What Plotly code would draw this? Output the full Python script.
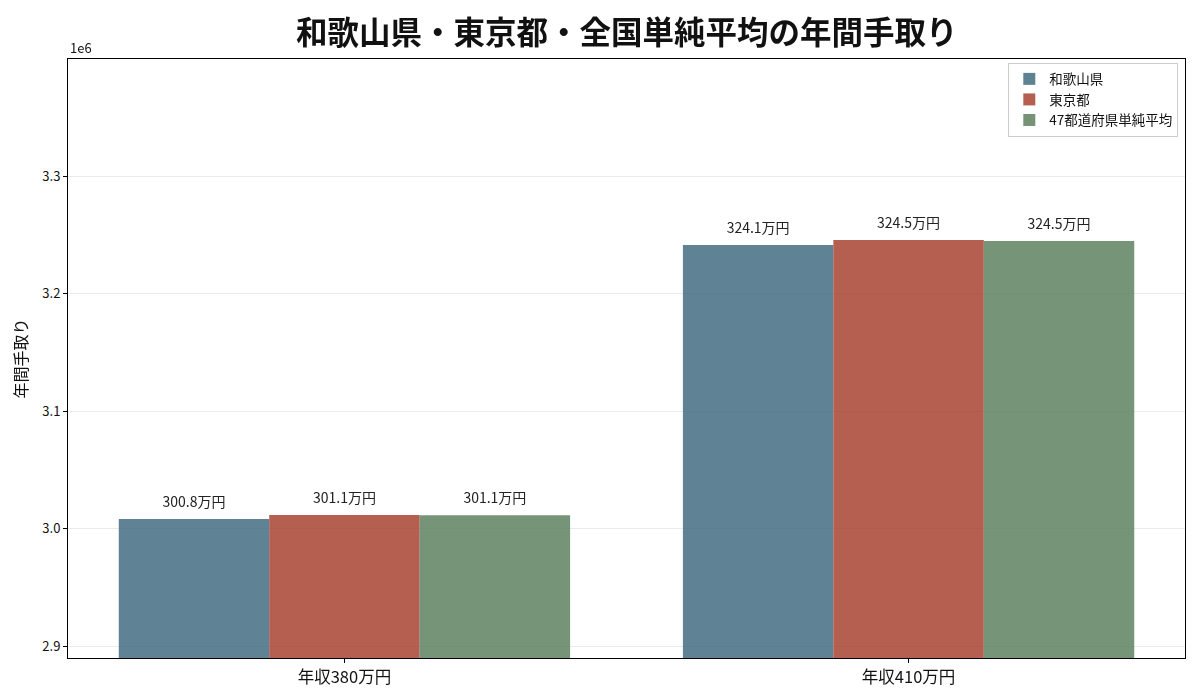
import plotly.graph_objects as go

categories = ["年収380万円", "年収410万円"]
series_names = ["和歌山県", "東京都", "47都道府県単純平均"]
wakayama = [3008100, 3241300]
tokyo = [3011400, 3245500]
national = [3011200, 3244800]
labels_wakayama = ["300.8万円", "324.1万円"]
labels_tokyo = ["301.1万円", "324.5万円"]
labels_national = ["301.1万円", "324.5万円"]
ytick_vals = [2900000, 3000000, 3100000, 3200000, 3300000]
ytick_text = ["2.9", "3.0", "3.1", "3.2", "3.3"]

colors = ["rgb(67,108,129)", "rgb(167,67,49)", "rgb(94,129,96)"]
FONT = "Noto Sans CJK JP"

fig = go.Figure()
for i, (name, vals, col) in enumerate(zip(series_names, [wakayama, tokyo, national], colors)):
    fig.add_trace(go.Bar(
        x=categories, y=vals, name=name, offsetgroup=str(i),
        marker=dict(color=col, line=dict(width=0)), opacity=0.85,
    ))
for i, (vals, labs) in enumerate(zip([wakayama, tokyo, national],
                                     [labels_wakayama, labels_tokyo, labels_national])):
    fig.add_trace(go.Scatter(
        x=categories, y=vals, mode="markers+text", offsetgroup=str(i),
        text=labs, textposition="top center", showlegend=False, hoverinfo="skip",
        marker=dict(size=12, opacity=0), cliponaxis=False,
        textfont=dict(size=14, color="#222", family=FONT),
    ))

fig.update_layout(
    width=1200, height=700,
    barmode="group", bargap=0.2, bargroupgap=0,
    scattermode="group", scattergap=0.2,
    plot_bgcolor="white", paper_bgcolor="white",
    font=dict(family=FONT, color="#111"),
    margin=dict(l=60, r=23, t=51, b=50),
    legend=dict(x=0.994, y=0.994, xanchor="right", yanchor="top",
                bgcolor="rgba(255,255,255,0.9)", bordercolor="#ccc", borderwidth=1,
                font=dict(size=13.5, family=FONT), tracegroupgap=0),
    showlegend=True,
)
fig.update_xaxes(
    range=[-0.49, 1.49], showline=True, linecolor="black", linewidth=1, mirror=True,
    ticks="outside", ticklen=4, tickcolor="black", showgrid=False,
    tickfont=dict(size=16.5, family=FONT, color="#111"),
)
fig.update_yaxes(
    range=[2889800, 3399600], showline=True, linecolor="black", linewidth=1, mirror=True,
    ticks="outside", ticklen=4, tickcolor="black",
    tickvals=ytick_vals, ticktext=ytick_text,
    showgrid=True, gridcolor="rgba(0,0,0,0.08)", gridwidth=1, zeroline=False,
    tickfont=dict(size=13, family=FONT, color="#111"),
    title=dict(text="年間手取り", font=dict(size=16, family=FONT, color="#111"), standoff=12),
)
fig.add_annotation(text="<b>和歌山県・東京都・全国単純平均の年間手取り</b>",
                   xref="paper", yref="paper", x=0.5, y=1.0, yshift=29,
                   xanchor="center", yanchor="middle", showarrow=False,
                   font=dict(size=31.5, family=FONT, color="#111"))
fig.add_annotation(text="1e6", xref="paper", yref="paper", x=0, y=1.0,
                   xanchor="left", yanchor="bottom", showarrow=False,
                   font=dict(size=13, family=FONT, color="#111"), yshift=0)

fig.write_html("out.html")
